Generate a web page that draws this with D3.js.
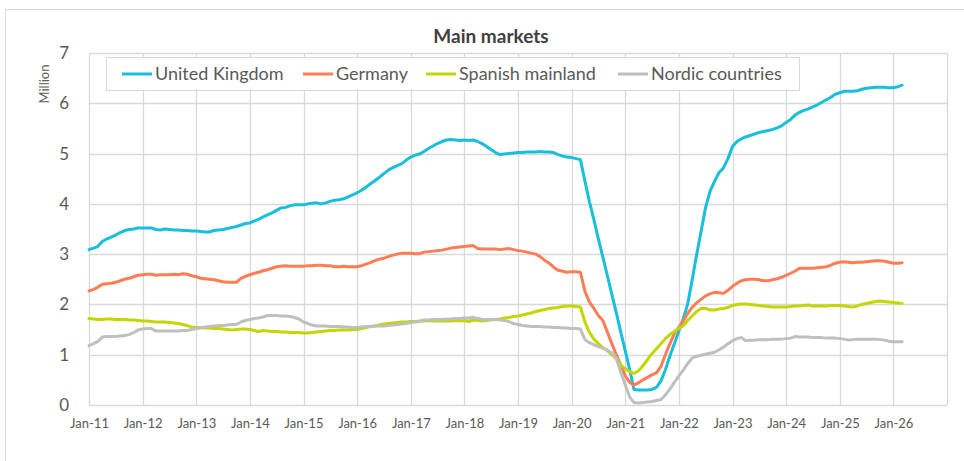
<!DOCTYPE html>
<html>
<head>
<meta charset="utf-8">
<script src="https://cdn.jsdelivr.net/npm/d3@7"></script>
<style>
  html, body { margin: 0; padding: 0; background: #fff; }
  svg text { font-family: Lato, "Open Sans", sans-serif; }
</style>
</head>
<body>
<div id="chart"></div>
<script>
(() => {

// months run from Jan-11, one value per month
const firstMonth = new Date(Date.UTC(2011, 0, 1));

const tickLabels = ["Jan-11","Jan-12","Jan-13","Jan-14","Jan-15","Jan-16","Jan-17","Jan-18",
  "Jan-19","Jan-20","Jan-21","Jan-22","Jan-23","Jan-24","Jan-25","Jan-26"];

const seriesNames = ["United Kingdom", "Germany", "Spanish mainland", "Nordic countries"];
const seriesColors = ["#17bfdb", "#ff7c55", "#c4d600", "#bfbfbf"];

// million travellers (12-month totals)
const uk = [
  3.09,3.12,3.15,3.25,3.30,3.34,3.38,3.43,3.47,3.49,3.50,3.52,
  3.52,3.52,3.52,3.49,3.48,3.50,3.49,3.48,3.48,3.47,3.47,3.46,
  3.46,3.45,3.44,3.44,3.47,3.48,3.49,3.51,3.53,3.55,3.58,3.61,
  3.62,3.66,3.69,3.74,3.78,3.82,3.87,3.92,3.93,3.96,3.98,3.98,
  3.98,4.00,4.01,4.02,4.00,4.02,4.05,4.07,4.08,4.10,4.14,4.18,
  4.22,4.27,4.33,4.40,4.46,4.53,4.60,4.67,4.72,4.76,4.80,4.87,
  4.93,4.97,4.99,5.04,5.10,5.15,5.20,5.24,5.27,5.28,5.27,5.26,
  5.27,5.26,5.27,5.24,5.20,5.14,5.08,5.02,4.98,4.99,5.00,5.01,
  5.02,5.02,5.03,5.03,5.03,5.04,5.03,5.03,5.02,4.98,4.95,4.93,
  4.92,4.90,4.88,4.45,4.05,3.68,3.31,2.94,2.57,2.20,1.83,1.45,
  1.07,0.69,0.31,0.30,0.30,0.30,0.31,0.35,0.48,0.70,0.98,1.22,
  1.47,1.73,2.00,2.48,2.98,3.45,3.92,4.25,4.45,4.62,4.72,4.90,
  5.14,5.24,5.29,5.33,5.36,5.39,5.42,5.44,5.46,5.48,5.51,5.55,
  5.62,5.68,5.76,5.82,5.86,5.89,5.93,5.97,6.02,6.07,6.12,6.18,
  6.21,6.24,6.24,6.24,6.25,6.28,6.30,6.31,6.32,6.32,6.32,6.31,
  6.31,6.33,6.36
];

const germany = [
  2.27,2.30,2.34,2.40,2.41,2.42,2.44,2.47,2.50,2.52,2.55,2.58,
  2.59,2.60,2.60,2.58,2.59,2.59,2.59,2.60,2.59,2.61,2.60,2.57,
  2.55,2.52,2.51,2.50,2.49,2.47,2.45,2.44,2.44,2.44,2.52,2.56,
  2.59,2.62,2.64,2.67,2.69,2.72,2.75,2.76,2.77,2.76,2.76,2.76,
  2.76,2.77,2.77,2.78,2.78,2.77,2.77,2.75,2.75,2.76,2.75,2.75,
  2.75,2.77,2.80,2.83,2.87,2.90,2.92,2.95,2.98,3.00,3.02,3.02,
  3.02,3.01,3.01,3.04,3.05,3.06,3.07,3.08,3.10,3.12,3.13,3.14,
  3.15,3.16,3.17,3.11,3.10,3.10,3.10,3.10,3.09,3.10,3.11,3.09,
  3.07,3.06,3.04,3.02,3.00,2.95,2.88,2.82,2.74,2.68,2.66,2.64,
  2.65,2.65,2.64,2.26,2.05,1.92,1.78,1.68,1.45,1.22,1.00,0.79,
  0.58,0.45,0.40,0.44,0.50,0.55,0.60,0.64,0.77,1.00,1.22,1.42,
  1.55,1.68,1.82,1.94,2.03,2.10,2.17,2.21,2.24,2.23,2.22,2.28,
  2.36,2.42,2.47,2.49,2.50,2.50,2.49,2.47,2.47,2.49,2.51,2.54,
  2.58,2.62,2.66,2.72,2.72,2.72,2.72,2.73,2.74,2.75,2.78,2.82,
  2.84,2.85,2.84,2.83,2.84,2.84,2.85,2.86,2.87,2.87,2.86,2.84,
  2.82,2.82,2.83
];

const spanish = [
  1.72,1.71,1.70,1.70,1.71,1.71,1.70,1.70,1.70,1.69,1.69,1.68,
  1.67,1.67,1.66,1.65,1.65,1.65,1.64,1.63,1.62,1.60,1.58,1.55,
  1.54,1.54,1.53,1.53,1.52,1.52,1.51,1.50,1.49,1.50,1.51,1.51,
  1.50,1.48,1.46,1.48,1.47,1.46,1.46,1.45,1.45,1.44,1.44,1.44,
  1.43,1.43,1.44,1.45,1.46,1.47,1.48,1.48,1.49,1.49,1.49,1.50,
  1.50,1.52,1.54,1.56,1.57,1.59,1.61,1.62,1.63,1.64,1.65,1.65,
  1.66,1.66,1.67,1.67,1.68,1.67,1.67,1.67,1.67,1.67,1.68,1.67,
  1.68,1.66,1.69,1.68,1.67,1.68,1.69,1.70,1.71,1.73,1.74,1.76,
  1.77,1.79,1.81,1.83,1.86,1.88,1.90,1.92,1.93,1.94,1.96,1.97,
  1.97,1.96,1.95,1.65,1.45,1.31,1.22,1.14,1.08,1.00,0.92,0.80,
  0.72,0.66,0.63,0.68,0.78,0.90,1.02,1.12,1.22,1.32,1.40,1.46,
  1.52,1.58,1.68,1.77,1.86,1.92,1.92,1.89,1.89,1.91,1.92,1.94,
  1.98,2.00,2.01,2.01,2.00,1.99,1.98,1.97,1.96,1.95,1.95,1.95,
  1.95,1.96,1.97,1.97,1.98,1.99,1.97,1.97,1.97,1.97,1.98,1.98,
  1.98,1.97,1.96,1.95,1.97,2.00,2.02,2.04,2.06,2.07,2.06,2.05,
  2.04,2.03,2.02
];

const nordic = [
  1.18,1.22,1.26,1.35,1.36,1.36,1.36,1.37,1.38,1.40,1.44,1.49,
  1.51,1.52,1.52,1.47,1.47,1.47,1.47,1.47,1.47,1.48,1.48,1.50,
  1.52,1.53,1.55,1.56,1.57,1.58,1.58,1.59,1.60,1.60,1.65,1.68,
  1.70,1.72,1.73,1.75,1.78,1.78,1.78,1.77,1.77,1.76,1.74,1.71,
  1.65,1.62,1.59,1.57,1.57,1.57,1.56,1.56,1.56,1.55,1.55,1.54,
  1.54,1.55,1.56,1.56,1.57,1.57,1.57,1.58,1.59,1.60,1.61,1.62,
  1.64,1.65,1.66,1.69,1.69,1.70,1.70,1.70,1.71,1.71,1.72,1.72,
  1.73,1.73,1.74,1.72,1.70,1.70,1.70,1.70,1.69,1.68,1.66,1.62,
  1.60,1.58,1.57,1.56,1.56,1.56,1.55,1.55,1.54,1.54,1.53,1.53,
  1.52,1.52,1.51,1.30,1.24,1.20,1.16,1.13,1.09,1.04,0.92,0.65,
  0.40,0.15,0.05,0.04,0.05,0.06,0.07,0.09,0.11,0.20,0.32,0.45,
  0.58,0.70,0.82,0.93,0.97,0.99,1.01,1.03,1.05,1.10,1.15,1.22,
  1.28,1.32,1.34,1.28,1.29,1.29,1.30,1.30,1.30,1.31,1.31,1.31,
  1.32,1.33,1.36,1.35,1.35,1.35,1.34,1.34,1.34,1.33,1.33,1.33,
  1.32,1.31,1.29,1.30,1.31,1.31,1.31,1.31,1.31,1.30,1.29,1.27,
  1.26,1.26,1.26
];

const allSeries = [uk, germany, spanish, nordic];

const width = 964, height = 461;
const left = 89, right = 947, top = 53, bottom = 405;

const svg = d3.select("#chart").append("svg")
  .attr("width", width)
  .attr("height", height);

// chart frame
svg.append("path")
  .attr("d", `M5.5,${height + 5}V9.5H${width + 5}`)
  .attr("fill", "none")
  .attr("stroke", "#d9d9d9");

const x = d3.scaleUtc()
  .domain([firstMonth, new Date(Date.UTC(2027, 0, 1))])
  .range([left, right]);

const y = d3.scaleLinear()
  .domain([0, 7])
  .range([bottom, top]);

const gridColor = "#d9d9d9";

// horizontal grid
svg.append("g")
  .selectAll("line")
  .data(y.ticks(7))
  .join("line")
  .attr("x1", left).attr("x2", right)
  .attr("y1", d => Math.round(y(d)) + 0.5)
  .attr("y2", d => Math.round(y(d)) + 0.5)
  .attr("stroke", gridColor)
  .attr("stroke-width", 1.3);

// vertical grid, one per January
const years = d3.utcYear.range(firstMonth, new Date(Date.UTC(2027, 0, 2)));
svg.append("g")
  .selectAll("line")
  .data(years)
  .join("line")
  .attr("x1", d => Math.round(x(d)) + 0.5)
  .attr("x2", d => Math.round(x(d)) + 0.5)
  .attr("y1", top).attr("y2", bottom)
  .attr("stroke", gridColor)
  .attr("stroke-width", 1.3);

// y axis labels
const yAxis = svg.append("g")
  .attr("transform", `translate(${left},0)`)
  .call(d3.axisLeft(y).ticks(7).tickSize(0).tickPadding(20));
yAxis.select(".domain").remove();
yAxis.selectAll("text")
  .attr("fill", "#595959")
  .style("font-size", "17px");

// x axis labels
const xAxis = svg.append("g")
  .attr("transform", `translate(0,${bottom})`)
  .call(d3.axisBottom(x)
    .tickValues(years.slice(0, tickLabels.length))
    .tickFormat((d, i) => tickLabels[i])
    .tickSize(0)
    .tickPadding(14));
xAxis.select(".domain").remove();
xAxis.selectAll("text")
  .attr("fill", "#595959")
  .style("font-size", "13px");

// lines
const line = d3.line()
  .x((d, i) => x(d3.utcMonth.offset(firstMonth, i)))
  .y(d => y(d))
  .curve(d3.curveLinear);

svg.append("g")
  .selectAll("path")
  .data(allSeries)
  .join("path")
  .attr("d", d => line(d))
  .attr("fill", "none")
  .attr("stroke", (d, i) => seriesColors[i])
  .attr("stroke-width", 3)
  .attr("stroke-linejoin", "round")
  .attr("stroke-linecap", "round");

// title
svg.append("text")
  .attr("x", 491)
  .attr("y", 43)
  .attr("text-anchor", "middle")
  .attr("fill", "#404040")
  .style("font-size", "19px")
  .style("font-weight", "bold")
  .text("Main markets");

// axis title
svg.append("text")
  .attr("transform", "translate(49,84) rotate(-90)")
  .attr("text-anchor", "middle")
  .attr("fill", "#595959")
  .style("font-size", "13px")
  .text("Million");

// legend
const legend = svg.append("g");
legend.append("rect")
  .attr("x", 106.5).attr("y", 57.5)
  .attr("width", 693).attr("height", 33)
  .attr("fill", "#fff")
  .attr("stroke", gridColor);

const legendX = [122, 303, 426, 618];
const items = legend.selectAll("g.item")
  .data(seriesNames)
  .join("g")
  .attr("class", "item")
  .attr("transform", (d, i) => `translate(${legendX[i]},74)`);

items.append("line")
  .attr("x1", 0).attr("x2", 30)
  .attr("stroke", (d, i) => seriesColors[i])
  .attr("stroke-width", 3);

items.append("text")
  .attr("x", 33)
  .attr("dy", "0.35em")
  .attr("fill", "#595959")
  .style("font-size", "18px")
  .text(d => d);

})();
</script>
</body>
</html>
